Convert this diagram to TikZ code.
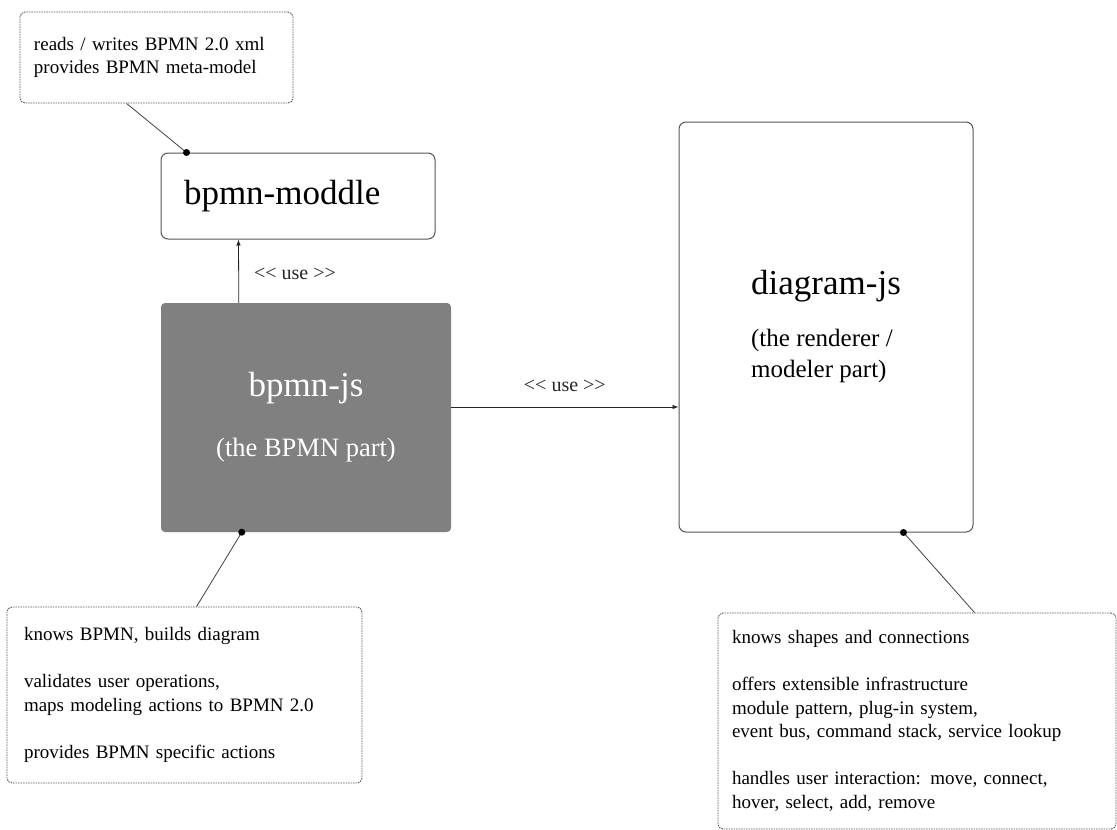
\documentclass[tikz,border=0pt]{standalone}
\usepackage{fontspec}
\setmainfont{Liberation Serif}
\usetikzlibrary{arrows.meta, positioning, calc}
\definecolor{jsgray}{HTML}{808080}
\definecolor{edgegray}{HTML}{555555}
\newcommand{\titlefont}{\fontsize{35}{40}\selectfont}
\newcommand{\subfont}{\fontsize{25}{31}\selectfont}
\newcommand{\notefont}{\fontsize{19}{23.5}\selectfont}
\tikzset{
  compbox/.style={draw=edgegray, line width=1pt, rounded corners=7pt, inner sep=0pt},
  corebox/.style={fill=jsgray, text=white, rounded corners=4pt, inner sep=0pt},
  notebox/.style={draw=edgegray, line width=0.9pt, dash pattern=on 1.5pt off 1pt,
    rounded corners=5pt, align=left, font=\notefont, inner ysep=0pt},
  uselink/.style={-{Latex[length=6pt, width=4.5pt]}, line width=0.8pt, black!85},
  uselabel/.style={font=\fontsize{20}{24}\selectfont, inner sep=0pt},
  notelink/.style={line width=0.8pt, black!75}
}

\begin{document}
\begin{tikzpicture}[x=1pt, y=-1pt]
  \useasboundingbox (0,0) rectangle (1117,830);
  % Components
  \node[compbox, minimum width=274pt, minimum height=86pt, font=\titlefont,
    align=left, text width=228pt, inner xsep=23pt] (moddle) at (298,196) {bpmn-moddle};
  \node[corebox, minimum width=290pt, minimum height=229pt, align=center, font=\fontsize{26.5}{31}\selectfont] (bpmnjs) at (306,417.5)
    {{\titlefont bpmn-js}\\[29pt](the BPMN part)};
  \node[compbox, minimum width=294pt, minimum height=410pt, align=left, font=\subfont] (diagram) at (826,327)
    {{\titlefont diagram-js}\\[21pt](the renderer /\\modeler part)};
  % Notes
  \node[notebox, text width=245pt, inner xsep=14pt, minimum height=91pt] (moddlenote) at (156.5,57.5)
    {reads / writes BPMN 2.0 xml\\provides BPMN meta-model};
  \node[notebox, text width=321pt, inner xsep=17pt, minimum height=176pt] (jsnote) at (184.5,695)
    {knows BPMN, builds diagram\\[23.5pt]validates user operations,\\maps modeling actions to BPMN 2.0\\[23.5pt]provides BPMN specific actions};
  \node[notebox, text width=370pt, inner xsep=14pt, minimum height=216pt] (diagramnote) at (917,721)
    {knows shapes and connections\\[23.5pt]offers extensible infrastructure\\module pattern, plug-in system,\\event bus, command stack, service lookup\\[23.5pt]handles user interaction: move, connect,\\hover, select, add, remove};
  % Uses
  \draw[uselink] ([xshift=78pt]bpmnjs.north west) -- ([xshift=78pt]moddle.south west)
    node[uselabel, pos=0.45, right=15pt] {<\kern0pt< use >\kern0pt>};
  \coordinate (usestart) at ([yshift=10.5pt]bpmnjs.east);
  \draw[uselink] (usestart) -- (usestart -| diagram.west)
    node[uselabel, midway, above=15pt] {<\kern0pt< use >\kern0pt>};
  % Note links
  \coordinate (moddlepin) at ([xshift=26pt]moddle.north west);
  \coordinate (jspin) at ([xshift=81pt]bpmnjs.south west);
  \coordinate (diagrampin) at ([xshift=225pt]diagram.south west);
  \draw[notelink] ([xshift=107pt]moddlenote.south west) -- (moddlepin);
  \draw[notelink] ([xshift=190pt]jsnote.north west) -- (jspin);
  \draw[notelink] ([xshift=257pt]diagramnote.north west) -- (diagrampin);
  \foreach \p in {moddlepin, jspin, diagrampin}
    \fill (\p) circle (3.5pt);
\end{tikzpicture}
\end{document}
